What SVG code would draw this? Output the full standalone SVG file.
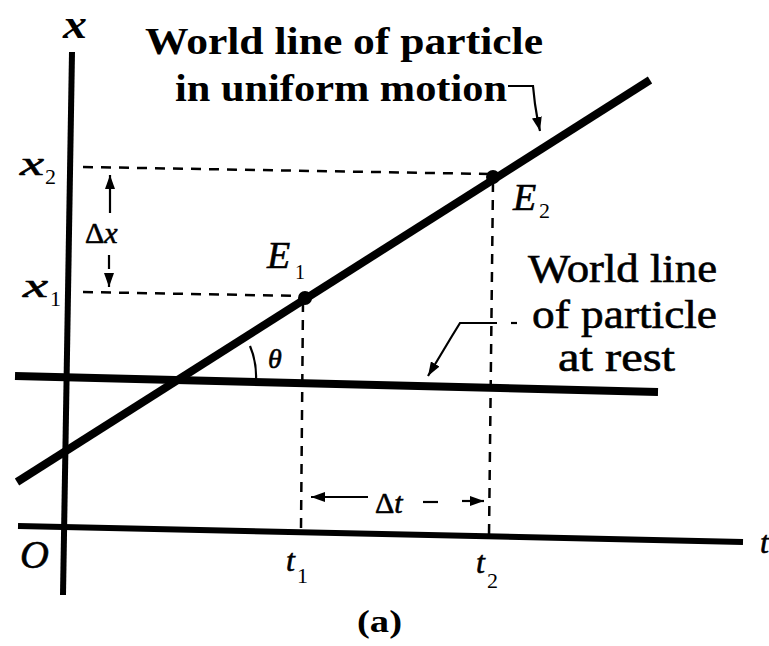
<svg xmlns="http://www.w3.org/2000/svg" width="769" height="646" viewBox="0 0 769 646">
<style>
.ax{stroke:#000;stroke-width:6;fill:none;stroke-linecap:butt}
.wl{stroke:#000;stroke-width:8;fill:none}
.dash{stroke:#000;stroke-width:2.5;fill:none;stroke-dasharray:10 8}
.thin{stroke:#000;stroke-width:2.2;fill:none}
.lbl{font-family:"Liberation Serif","Times New Roman",serif;fill:#000}
.it{font-style:italic}
.b{font-weight:bold}
.med{stroke:#000;stroke-width:0.6}
</style>
<defs>
<marker id="ah" markerUnits="userSpaceOnUse" markerWidth="16" markerHeight="10" refX="14" refY="5" orient="auto">
<path d="M0,0 L14,5 L0,10 Z" fill="#000"/>
</marker>
</defs>
<rect width="769" height="646" fill="#fff"/>

<g id="axes">
<line class="ax" x1="72" y1="52" x2="63" y2="595"/>
<line class="ax" x1="18" y1="526" x2="743" y2="542"/>
</g>

<g id="guides">
<line class="dash" x1="83" y1="167" x2="490" y2="174"/>
<line class="dash" x1="83" y1="292" x2="303" y2="296"/>
<line class="dash" x1="303" y1="302" x2="301" y2="528"/>
<line class="dash" x1="493" y1="182" x2="489" y2="536"/>
</g>

<g id="world-line-rest">
<line class="wl" x1="15" y1="376" x2="658" y2="392" stroke-width="7"/>
</g>

<g id="world-line-motion">
<line class="wl" x1="17" y1="482" x2="650" y2="80"/>
</g>

<g id="E1">
<circle cx="305" cy="298" r="7" fill="#000"/>
<text class="lbl it med" x="267" y="268" font-size="38">E</text>
<text class="lbl" x="295" y="279" font-size="20">1</text>
</g>
<g id="E2">
<circle cx="493" cy="177" r="7" fill="#000"/>
<text class="lbl it med" x="513" y="210" font-size="38">E</text>
<text class="lbl" x="539" y="218" font-size="22">2</text>
</g>

<g id="connectors">
<path class="thin" d="M508,86 L533,86 L535,104 Q537,118 540,131" marker-end="url(#ah)"/>
<path class="thin" d="M497,323 L460,323 L452,336 L428,376" marker-end="url(#ah)"/>
<line class="thin" x1="511" y1="323" x2="517" y2="323"/>
<line class="thin" x1="110" y1="213" x2="110" y2="175" stroke-width="3" marker-end="url(#ah)"/>
<line class="thin" x1="109" y1="255" x2="109" y2="287" stroke-width="3" stroke-dasharray="14 6" marker-end="url(#ah)"/>
<line class="thin" x1="368" y1="497" x2="311" y2="497" marker-end="url(#ah)"/>
<line class="thin" x1="423" y1="502" x2="438" y2="502" stroke-width="3"/>
<line class="thin" x1="462" y1="501" x2="484" y2="501" marker-end="url(#ah)"/>
<path class="thin" d="M256,380 A78,78 0 0 0 250,346" stroke-width="3"/>
</g>

<g id="labels">
<text class="lbl it b" x="63" y="38" font-size="40" textLength="24" lengthAdjust="spacingAndGlyphs">x</text>
<text class="lbl it med" x="20" y="175" font-size="34" textLength="24" lengthAdjust="spacingAndGlyphs">x</text>
<text class="lbl" x="45" y="184" font-size="22">2</text>
<text class="lbl it med" x="23" y="297" font-size="34" textLength="25" lengthAdjust="spacingAndGlyphs">x</text>
<text class="lbl" x="50" y="306" font-size="22">1</text>
<text class="lbl med" x="85" y="243" font-size="30">Δ<tspan class="it">x</tspan></text>
<text class="lbl it med" x="20" y="568" font-size="40">O</text>
<text class="lbl it med" x="286" y="571" font-size="32">t</text>
<text class="lbl" x="297" y="583" font-size="22">1</text>
<text class="lbl it med" x="476" y="573" font-size="32">t</text>
<text class="lbl" x="487" y="588" font-size="22">2</text>
<text class="lbl it med" x="760" y="553" font-size="32">t</text>
<text class="lbl it med" x="268" y="368" font-size="28">θ</text>
<text class="lbl med" x="375" y="513" font-size="30">Δ<tspan class="it">t</tspan></text>
<text class="lbl b" x="357" y="632" font-size="32" textLength="45" lengthAdjust="spacingAndGlyphs">(a)</text>
<text class="lbl b" x="145" y="54" font-size="38" textLength="398" lengthAdjust="spacingAndGlyphs">World line of particle</text>
<text class="lbl b" x="175" y="101" font-size="38" textLength="332" lengthAdjust="spacingAndGlyphs">in uniform motion</text>
<text class="lbl med" x="528" y="282" font-size="40" textLength="189" lengthAdjust="spacingAndGlyphs">World line</text>
<text class="lbl med" x="532" y="328" font-size="40" textLength="185" lengthAdjust="spacingAndGlyphs">of particle</text>
<text class="lbl med" x="558" y="371" font-size="40" textLength="117" lengthAdjust="spacingAndGlyphs">at rest</text>
</g>
</svg>
